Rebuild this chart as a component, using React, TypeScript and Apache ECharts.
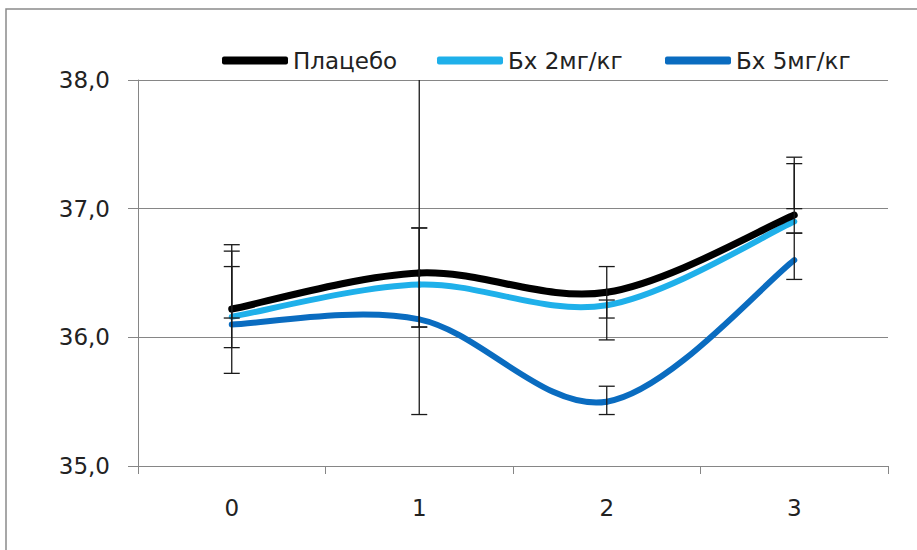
import React, { useEffect, useRef } from "react";
import * as echarts from "echarts";

const categories = ["0", "1", "2", "3"];
const seriesNames = ["Плацебо", "Бх 2мг/кг", "Бх 5мг/кг"];
const placebo = [36.22, 36.5, 36.35, 36.95];
const bx2 = [36.16, 36.41, 36.25, 36.9];
const bx5 = [36.1, 36.14, 35.5, 36.6];
// error bars: [categoryIndex, low, high]
const placeboErr = [
  [0, 35.72, 36.72],
  [1, 35.4, 38.6],
  [2, 35.98, 36.55],
  [3, 37.0, 37.4],
];
const bx2Err = [
  [0, 35.92, 36.67],
  [1, 36.08, 36.85],
  [2, 36.15, 36.29],
  [3, 36.81, 37.35],
];
const bx5Err = [
  [0, 36.15, 36.55],
  [1, 36.08, 36.85],
  [2, 35.4, 35.62],
  [3, 36.45, 36.81],
];
const yTicks = { min: 35, max: 38, interval: 1 };

const colors = ["#000000", "#1FB0EA", "#0A6CC0"];
const FONT = "DejaVu Sans";

function errRender(params: any, api: any) {
  const x = api.value(0);
  const lo = api.coord([x, api.value(1)]);
  const hi = api.coord([x, api.value(2)]);
  const cs = params.coordSys;
  const top = cs.y;
  const bottom = cs.y + cs.height;
  const yHi = Math.max(hi[1], top);
  const yLo = Math.min(lo[1], bottom);
  const w = 8;
  const style = { stroke: "#1a1a1a", lineWidth: 1.3 };
  const children: any[] = [
    { type: "line", shape: { x1: lo[0], y1: yLo, x2: lo[0], y2: yHi }, style },
  ];
  if (hi[1] >= top) {
    children.push({ type: "line", shape: { x1: hi[0] - w, y1: hi[1], x2: hi[0] + w, y2: hi[1] }, style });
  }
  if (lo[1] <= bottom) {
    children.push({ type: "line", shape: { x1: lo[0] - w, y1: lo[1], x2: lo[0] + w, y2: lo[1] }, style });
  }
  return { type: "group", children };
}

// Excel-like smoothing: Catmull-Rom converted to cubic Bezier segments
function makeCurveRender(values: number[], color: string, width: number) {
  return (params: any, api: any) => {
    const i = api.value(0);
    const n = values.length;
    if (i >= n - 1) return { type: "group", children: [] };
    const P = (k: number) => {
      const kk = Math.max(0, Math.min(n - 1, k));
      return api.coord([kk, values[kk]]);
    };
    const p0 = P(i - 1);
    const p1 = P(i);
    const p2 = P(i + 1);
    const p3 = P(i + 2);
    const t = 1 / 6;
    return {
      type: "bezierCurve",
      shape: {
        x1: p1[0],
        y1: p1[1],
        cpx1: p1[0] + (p2[0] - p0[0]) * t,
        cpy1: p1[1] + (p2[1] - p0[1]) * t,
        cpx2: p2[0] - (p3[0] - p1[0]) * t,
        cpy2: p2[1] - (p3[1] - p1[1]) * t,
        x2: p2[0],
        y2: p2[1],
      },
      style: { stroke: color, lineWidth: width, fill: "none", lineCap: "round" },
    };
  };
}

export default function App() {
  const ref = useRef<HTMLDivElement>(null);
  useEffect(() => {
    if (!ref.current) return;
    const chart = echarts.init(ref.current, undefined, { renderer: "svg" });
    const lineData = [placebo, bx2, bx5];
    const errData = [placeboErr, bx2Err, bx5Err];
    const legendLefts = [217, 432, 660];
    chart.setOption({
      animation: false,
      backgroundColor: "#ffffff",
      graphic: [
        {
          type: "rect",
          shape: { x: 6, y: 9, width: 930, height: 560 },
          style: { fill: "none", stroke: "#8a8a8a", lineWidth: 1.5 },
          silent: true,
        },
      ],
      legend: seriesNames.map((n, i) => ({
        data: [n],
        left: legendLefts[i],
        top: 44,
        icon: "roundRect",
        itemWidth: 66,
        itemHeight: 8,
        textStyle: { fontFamily: FONT, fontSize: 23, color: "#222222" },
      })),
      grid: { left: 138, right: 29, top: 80, bottom: 84 },
      xAxis: {
        type: "category",
        data: categories,
        boundaryGap: true,
        axisLine: { lineStyle: { color: "#868686", width: 1 } },
        axisTick: { show: true, length: 8, lineStyle: { color: "#868686" } },
        axisLabel: { fontFamily: FONT, fontSize: 23, color: "#222222", margin: 30 },
        splitLine: { show: false },
      },
      yAxis: {
        type: "value",
        min: yTicks.min,
        max: yTicks.max,
        interval: yTicks.interval,
        axisLine: { show: true, lineStyle: { color: "#868686", width: 1 } },
        axisTick: { show: true, length: 10, lineStyle: { color: "#868686" } },
        axisLabel: {
          fontFamily: FONT,
          fontSize: 23,
          color: "#222222",
          margin: 28,
          formatter: (v: number) => v.toFixed(1).replace(".", ","),
        },
        splitLine: { show: true, lineStyle: { color: "#868686", width: 1 } },
      },
      series: [
        ...seriesNames.map((n, i) => ({
          name: n,
          type: "custom",
          data: lineData[i].map((v, k) => [k, v]),
          encode: { x: 0, y: 1 },
          renderItem: makeCurveRender(lineData[i], colors[i], i === 0 ? 7 : 6),
          itemStyle: { color: colors[i] },
          z: 5 - i,
          silent: true,
        })),
        ...seriesNames.map((n, i) => ({
          name: n + " err",
          type: "custom",
          data: errData[i],
          renderItem: errRender,
          encode: { x: 0, y: [1, 2] },
          z: 10,
          silent: true,
        })),
      ],
    });
    return () => chart.dispose();
  }, []);
  return (
    <div
      ref={ref}
      style={{ position: "fixed", left: 0, top: 0, width: 917, height: 550 }}
    />
  );
}
